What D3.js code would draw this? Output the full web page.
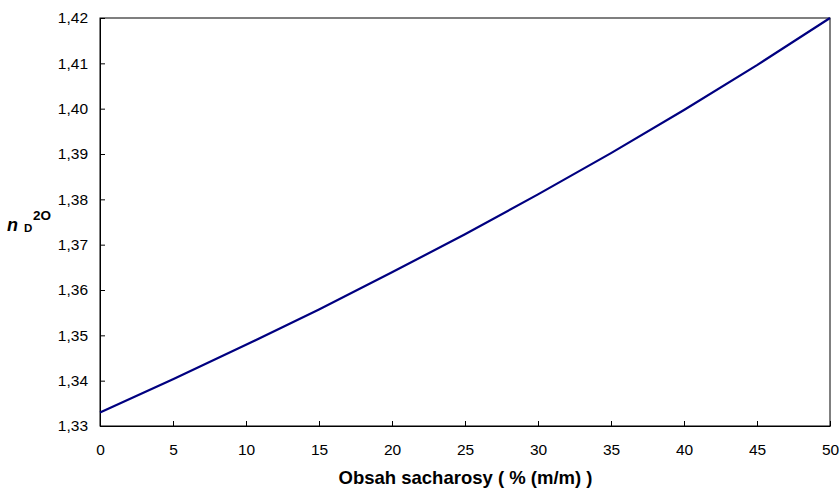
<!DOCTYPE html>
<html><head><meta charset="utf-8">
<script src="https://cdn.jsdelivr.net/npm/d3@7"></script>
<style>body{margin:0;background:#fff}svg{display:block}text{font-family:"Liberation Sans",Arial,sans-serif}</style>
</head><body>
<svg id="c" width="840" height="488"></svg>
<script>
const sucrose = [0,5,10,15,20,25,30,35,40,45,50];
const refIndex = [1.3330,1.3403,1.3479,1.3557,1.3639,1.3723,1.3811,1.3902,1.3997,1.4096,1.4200];
const xTicks = [0,5,10,15,20,25,30,35,40,45,50];
const yTicks = [1.33,1.34,1.35,1.36,1.37,1.38,1.39,1.40,1.41,1.42];

const svg = d3.select("#c");
const m = {l:100, r:830, t:18, b:426};
const x = d3.scaleLinear().domain([0,50]).range([m.l,m.r]);
const y = d3.scaleLinear().domain([1.33,1.42]).range([m.b,m.t]);

svg.append("rect").attr("x",m.l).attr("y",m.t).attr("width",m.r-m.l).attr("height",m.b-m.t)
  .attr("fill","none").attr("stroke","#000").attr("stroke-width",1);

const fmt = d => d3.format(".2f")(d).replace(".",",");
const xa = svg.append("g").attr("transform",`translate(0,${m.b})`)
  .call(d3.axisBottom(x).tickValues(xTicks).tickSizeInner(-5).tickSizeOuter(0).tickPadding(18).tickFormat(d3.format("d")));
const ya = svg.append("g").attr("transform",`translate(${m.l},0)`)
  .call(d3.axisLeft(y).tickValues(yTicks).tickSizeInner(-5).tickSizeOuter(0).tickPadding(12).tickFormat(fmt));
[xa,ya].forEach(a=>{
  a.selectAll("text").attr("font-size",15.5).attr("fill","#000").style("font-family","'Liberation Sans',Arial,sans-serif");
  a.selectAll("line").attr("stroke","#000");
  a.select(".domain").attr("stroke","#000");
});

const line = d3.line().x((d,i)=>x(sucrose[i])).y(d=>y(d));
svg.append("path").datum(refIndex).attr("d",line).attr("fill","none")
  .attr("stroke","#000080").attr("stroke-width",2.2);

svg.append("text").attr("x",465.5).attr("y",484).attr("text-anchor","middle")
  .attr("font-size",18.5).attr("font-weight","bold").text("Obsah sacharosy ( % (m/m) )");

const yl = svg.append("g");
yl.append("text").attr("x",7).attr("y",231).attr("font-size",18).attr("font-weight","bold").attr("font-style","italic").text("n");
yl.append("text").attr("x",24).attr("y",231.5).attr("font-size",11.5).attr("font-weight","bold").text("D");
yl.append("text").attr("x",33).attr("y",220).attr("font-size",13.5).attr("font-weight","bold").text("2O");
</script>
</body></html>
